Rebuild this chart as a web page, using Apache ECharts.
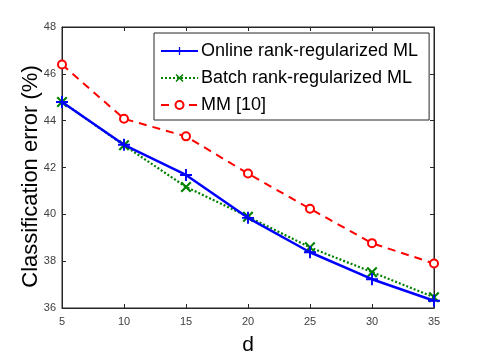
<!DOCTYPE html>
<html>
<head>
<meta charset="utf-8">
<script src="https://cdn.jsdelivr.net/npm/echarts@6/dist/echarts.min.js"></script>
<style>
  html, body { margin: 0; padding: 0; background: #fff; }
  #chart { width: 480px; height: 355px; }
</style>
</head>
<body>
<div id="chart"></div>
<script>
var dValues = [5, 10, 15, 20, 25, 30, 35];
var onlineErr = [44.8, 42.97, 41.68, 39.85, 38.38, 37.23, 36.31];
var batchErr = [44.8, 42.95, 41.17, 39.9, 38.59, 37.53, 36.46];
var mmErr = [46.4, 44.08, 43.33, 41.74, 40.24, 38.77, 37.9];
var seriesNames = ['Online rank-regularized ML', 'Batch rank-regularized ML', 'MM [10]'];

var plusPath = 'path://M-1,-0.16L-0.16,-0.16L-0.16,-1L0.16,-1L0.16,-0.16L1,-0.16L1,0.16L0.16,0.16L0.16,1L-0.16,1L-0.16,0.16L-1,0.16Z';
var crossPath = 'path://M-0.82,-0.6L-0.6,-0.82L0,-0.22L0.6,-0.82L0.82,-0.6L0.22,0L0.82,0.6L0.6,0.82L0,0.22L-0.6,0.82L-0.82,0.6L-0.22,0Z';

function pairs(ys) {
    var out = [];
    for (var i = 0; i < dValues.length; i++) {
        out.push([dValues[i], ys[i]]);
    }
    return out;
}

var axisColor = '#262626';
var font = 'Liberation Sans, Arial, sans-serif';

var chart = echarts.init(document.getElementById('chart'), null, {renderer: 'canvas'});
var option = {
    animation: false,
    backgroundColor: '#fff',
    grid: {
        left: 62, right: 46, top: 27, bottom: 47,
        containLabel: false,
        outerBoundsMode: 'none',
        show: true, borderColor: axisColor, borderWidth: 1
    },
    legend: {
        orient: 'vertical',
        left: 154, top: 33,
        padding: [9, 11, 6, 6],
        itemGap: 9,
        itemWidth: 37,
        itemHeight: 10,
        borderColor: axisColor,
        borderWidth: 1,
        backgroundColor: '#fff',
        textStyle: {fontFamily: font, fontSize: 18, lineHeight: 18, color: '#000', padding: [0, 0, 0, -2]},
        data: seriesNames
    },
    xAxis: [{
        type: 'value',
        min: 5, max: 35, interval: 5,
        name: 'd',
        nameLocation: 'middle',
        nameGap: 27,
        nameMoveOverlap: false,
        nameTextStyle: {fontFamily: font, fontSize: 21, color: '#000'},
        axisLine: {lineStyle: {color: axisColor}},
        axisTick: {inside: true, length: 4, lineStyle: {color: axisColor}},
        axisLabel: {fontFamily: font, fontSize: 11, color: '#404040', margin: 8},
        splitLine: {show: false}
    }, {
        type: 'value',
        position: 'top',
        min: 5, max: 35, interval: 5,
        axisLine: {lineStyle: {color: axisColor}},
        axisTick: {inside: true, length: 4, lineStyle: {color: axisColor}},
        axisLabel: {show: false},
        splitLine: {show: false}
    }],
    yAxis: [{
        type: 'value',
        min: 36, max: 48, interval: 2,
        name: 'Classification error (%)',
        nameLocation: 'middle',
        nameGap: 20,
        nameMoveOverlap: false,
        nameTextStyle: {fontFamily: font, fontSize: 22, color: '#000', padding: [0, 18, 0, 0]},
        axisLine: {show: true, lineStyle: {color: axisColor}},
        axisTick: {show: true, inside: true, length: 4, lineStyle: {color: axisColor}},
        axisLabel: {fontFamily: font, fontSize: 11, color: '#404040', margin: 6},
        splitLine: {show: false}
    }, {
        type: 'value',
        position: 'right',
        min: 36, max: 48, interval: 2,
        axisLine: {show: true, lineStyle: {color: axisColor}},
        axisTick: {show: true, inside: true, length: 4, lineStyle: {color: axisColor}},
        axisLabel: {show: false},
        splitLine: {show: false}
    }],
    series: [{
        name: seriesNames[2],
        type: 'line',
        data: pairs(mmErr),
        symbol: 'emptyCircle',
        symbolSize: 8,
        z: 2,
        lineStyle: {color: '#ff0000', width: 2, type: [8, 6]},
        itemStyle: {color: '#ff0000', borderColor: '#ff0000', borderWidth: 2}
    }, {
        name: seriesNames[1],
        type: 'line',
        data: pairs(batchErr),
        symbol: crossPath,
        symbolSize: 11,
        z: 3,
        lineStyle: {color: '#008000', width: 2.2, type: [2, 2]},
        itemStyle: {color: '#008000'}
    }, {
        name: seriesNames[0],
        type: 'line',
        data: pairs(onlineErr),
        symbol: plusPath,
        symbolSize: 12,
        z: 4,
        lineStyle: {color: '#0000ff', width: 2.5},
        itemStyle: {color: '#0000ff'}
    }]
};
chart.setOption(option);
</script>
</body>
</html>
